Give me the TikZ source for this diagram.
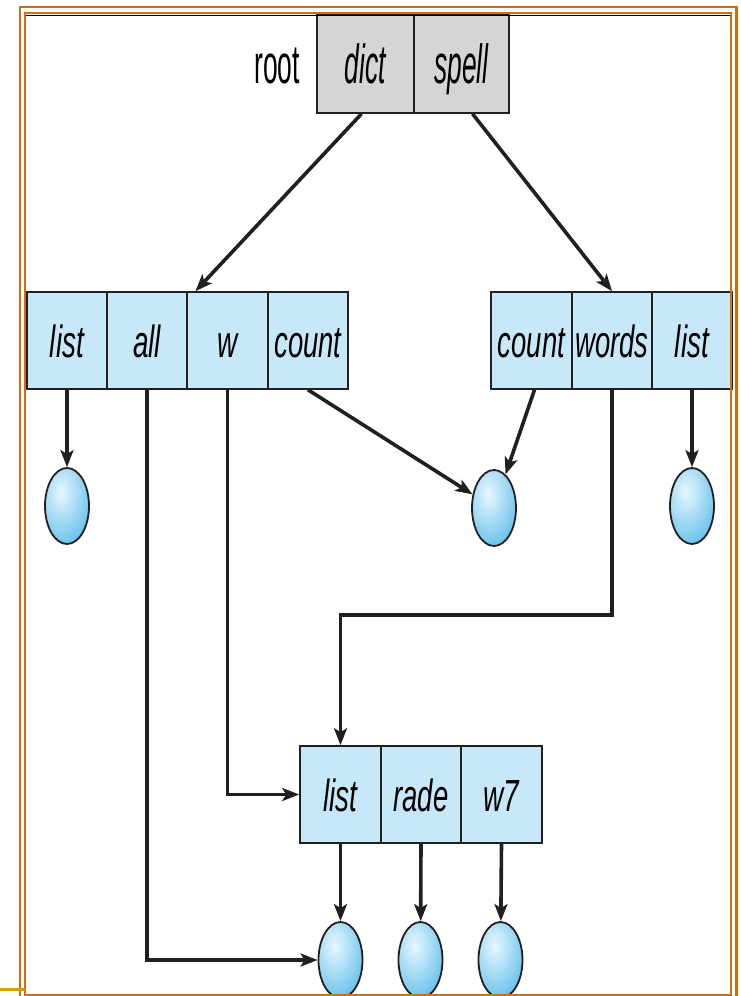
\documentclass[tikz,border=0pt]{standalone}
\usepackage{fontspec}
\usepackage{graphicx}
\newfontfamily\hv{Liberation Sans}
\usetikzlibrary{arrows.meta,shapes.geometric,calc}
\definecolor{ink}{RGB}{35,31,32}
\definecolor{cellblue}{RGB}{198,232,248}
\definecolor{rootgray}{RGB}{212,213,214}
\definecolor{blobedge}{RGB}{92,188,234}
\definecolor{blobhl}{RGB}{230,247,254}
\definecolor{frameorange}{RGB}{212,110,10}
\definecolor{ticky}{RGB}{214,160,0}
\newcommand{\cl}[2][0.62]{{\hv\fontsize{45}{45}\selectfont\itshape\scalebox{#1}[1]{#2}}}
\newcommand{\rl}[1]{{\hv\fontsize{55}{55}\selectfont\itshape\scalebox{0.48}[1]{#1}}}
\newcommand{\ru}[1]{{\hv\fontsize{55}{55}\selectfont\scalebox{0.48}[1]{#1}}}
\begin{document}
\begin{tikzpicture}[x=1pt,y=-1pt,
  cell/.style={draw=ink, line width=1.6pt, fill=cellblue, minimum width=80.5pt,
    minimum height=97pt, inner sep=0pt, text height=33pt, text depth=0pt},
  rcell/.style={cell, fill=rootgray, minimum height=98pt, text height=38pt},
  blob/.style={ellipse, draw=ink, line width=1.8pt, minimum width=44pt,
    minimum height=76pt, inner sep=0pt, fill=blobedge,
    path picture={\shade[inner color=blobhl, outer color=blobedge]
      ($(path picture bounding box.center)+(-6,-14)$) ellipse [x radius=36pt, y radius=60pt];}},
  conn/.style={draw=ink, line width=3.6pt, line join=miter,
    -{Stealth[length=17pt,width=13pt,inset=4pt]}}
]
\clip (0,0) rectangle (741,996);
\fill[white] (0,0) rectangle (741,996);

% root
\node[rcell, minimum width=97pt] (rdict) at (365.5,64) {\rl{dict}};
\node[rcell, minimum width=95pt] (rspell) at (461.5,64) {\rl{spell}};
\node[anchor=base, inner sep=0pt] (rootlbl) at (277,83) {\ru{root}};

% left box
\node[cell] (llist) at (67,340.5) {\cl{list}};
\node[cell] (lall) at (147,340.5) {\cl{all}};
\node[cell] (lw) at (227.5,340.5) {\cl{w}};
\node[cell] (lcount) at (308,340.5) {\cl[0.61]{count}};

% right box
\node[cell, minimum width=81pt] (rcount) at (531.5,340.5) {\cl[0.61]{count}};
\node[cell] (rwords) at (612,340.5) {\cl[0.61]{words}};
\node[cell] (rlist) at (692,340.5) {\cl{list}};

% bottom box
\node[cell, minimum width=81pt] (blist) at (340.5,794.5) {\cl{list}};
\node[cell] (brade) at (421,794.5) {\cl[0.61]{rade}};
\node[cell, minimum width=81pt] (bw7) at (501.5,794.5) {\cl{w7}};

% ellipses
\node[blob] (e1) at (67,506) {};
\node[blob] (e2) at (494,508) {};
\node[blob] (e3) at (692,506) {};
\node[blob] (b1) at (340.5,960) {};
\node[blob] (b2) at (420.5,960) {};
\node[blob] (b3) at (500.5,960) {};

% connectors
\draw[conn] ($(rdict.south)+(-4,0)$) -- ($(lw.north west)+(9,0)$);
\draw[conn] ($(rspell.south)+(11,0)$) -- (rwords.north);
\draw[conn] (llist.south) -- (e1);
\draw[conn] (lall.south) |- (b1);
\draw[conn] (lw.south) |- (blist.west);
\draw[conn] (lcount.south) -- (e2);
\draw[conn] ($(rcount.south)+(3,0)$) -- (e2);
\draw[conn] (rwords.south) -- ++(0,225) -| (blist.north);
\draw[conn] (rlist.south) -- (e3);
\draw[conn] (blist.south) -- (b1);
\draw[conn] (brade.south) -- (b2);
\draw[conn] (bw7.south) -- (b3);

% frame
\draw[frameorange, line width=2.4pt] (20,1000) -- (20,7) -- (736.5,7) -- (736.5,1000);
\draw[frameorange, line width=2.4pt] (25,1000) -- (25,13) -- (731,13) -- (731,1000);
\draw[frameorange, line width=1.3pt] (25,995) -- (731,995);
\draw[black, line width=1pt] (26,15) -- (730,15);
\draw[ticky, line width=3.5pt] (0,989.5) -- (25,989.5);
\end{tikzpicture}
\end{document}
